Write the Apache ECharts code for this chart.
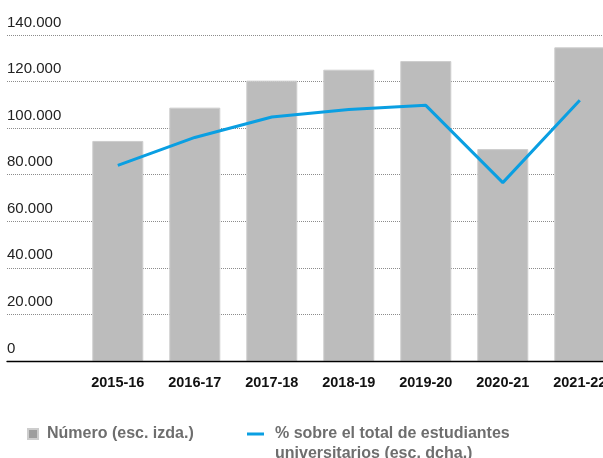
<!DOCTYPE html>
<html>
<head>
<meta charset="utf-8">
<script src="https://cdn.jsdelivr.net/npm/echarts@6/dist/echarts.min.js"></script>
<style>
  html, body { margin: 0; padding: 0; background: #fff; }
  #chart { width: 603px; height: 458px; }
</style>
</head>
<body>
<div id="chart"></div>
<script>
// Academic years
const categories = ['2015-16', '2016-17', '2017-18', '2018-19', '2019-20', '2020-21', '2021-22'];
// Number of students (left scale)
const numero = [94500, 108800, 120400, 125100, 128800, 91000, 134700];
// Share of all university students, % (right scale)
const porcentaje = [4.2, 4.8, 5.24, 5.4, 5.49, 3.83, 5.6];
// Left scale ticks
const leftMin = 0, leftMax = 140000, leftStep = 20000;
// Right scale range
const rightMin = 0, rightMax = 7;

const nameBar = 'Número (esc. izda.)';
const nameLine = '% sobre el total de estudiantes\nuniversitarios (esc. dcha.)';

const FONT = "'Liberation Sans', Arial, Helvetica, sans-serif";

function fmtThousands(v) {
  return String(v).replace(/\B(?=(\d{3})+(?!\d))/g, '.');
}

// Legend mark for the line: a short bar sitting level with the first text line
const lineIcon = 'path://M0,0H17V3H0ZM0,23L17,23';

const chart = echarts.init(document.getElementById('chart'), null, { renderer: 'canvas' });

chart.setOption({
  animation: false,
  backgroundColor: '#fff',
  textStyle: { fontFamily: FONT },
  grid: [
    // full-width frame carrying the left scale and its dotted rules
    { left: 7, right: 0, top: 35, bottom: 97, containLabel: false, outerBoundsMode: 'none' },
    // plotting area for bars and line (runs past the right edge)
    { left: 79.3, width: 539, top: 35, bottom: 97, containLabel: false, outerBoundsMode: 'none' }
  ],
  xAxis: [
    {
      type: 'value', gridIndex: 0, min: 0, max: 1, z: 10,
      axisLine: { show: true, onZero: false, lineStyle: { color: '#000', width: 1.3 } },
      axisTick: { show: false }, axisLabel: { show: false }, splitLine: { show: false }
    },
    {
      type: 'category', gridIndex: 1, data: categories,
      axisLine: { show: false }, axisTick: { show: false },
      axisLabel: {
        margin: 14, color: '#111', fontSize: 14.5, fontWeight: 'bold', fontFamily: FONT,
        interval: 0
      }
    }
  ],
  yAxis: [
    {
      type: 'value', gridIndex: 0, min: leftMin, max: leftMax, interval: leftStep,
      axisLine: { show: false }, axisTick: { show: false },
      axisLabel: {
        inside: true, margin: 0, align: 'left', verticalAlign: 'bottom',
        color: '#222', fontSize: 15, fontFamily: FONT, lineHeight: 15,
        padding: [0, 0, 5, 0],
        formatter: fmtThousands
      },
      splitLine: { show: true, lineStyle: { type: 'dotted', color: '#8c8c8c', width: 1 } }
    },
    {
      type: 'value', gridIndex: 1, min: leftMin, max: leftMax, interval: leftStep, show: false,
      splitLine: { show: false }
    },
    {
      type: 'value', gridIndex: 1, min: rightMin, max: rightMax, show: false,
      splitLine: { show: false }
    }
  ],
  legend: [
    {
      left: 27, top: 426, padding: 0, orient: 'horizontal',
      icon: 'rect', itemWidth: 10, itemHeight: 10, itemGap: 10,
      textStyle: {
        color: '#6e6e6e', fontSize: 16, fontWeight: 'bold', fontFamily: FONT,
        padding: [0, 0, 0, 4]
      },
      data: [{ name: nameBar, itemStyle: { color: '#9e9e9e' } }]
    },
    {
      left: 247, top: 424, padding: 0, orient: 'horizontal',
      itemWidth: 17, itemHeight: 23, itemGap: 10,
      textStyle: {
        color: '#6e6e6e', fontSize: 16, fontWeight: 'bold', fontFamily: FONT,
        lineHeight: 20, padding: [0, 0, 0, 6]
      },
      data: [{
        name: nameLine, icon: lineIcon,
        itemStyle: { color: '#0a9fe2', borderWidth: 0 },
        lineStyle: { width: 0 }
      }]
    }
  ],
  series: [
    {
      name: nameBar, type: 'bar', xAxisIndex: 1, yAxisIndex: 1,
      data: numero, barWidth: 51,
      itemStyle: { color: '#bcbcbc', borderColor: '#cdcdcd', borderWidth: 1 }
    },
    {
      name: nameLine, type: 'line', xAxisIndex: 1, yAxisIndex: 2,
      data: porcentaje, showSymbol: false, symbol: 'none',
      lineStyle: { color: '#0a9fe2', width: 3 },
      itemStyle: { color: '#0a9fe2' }
    }
  ]
});
</script>
</body>
</html>
